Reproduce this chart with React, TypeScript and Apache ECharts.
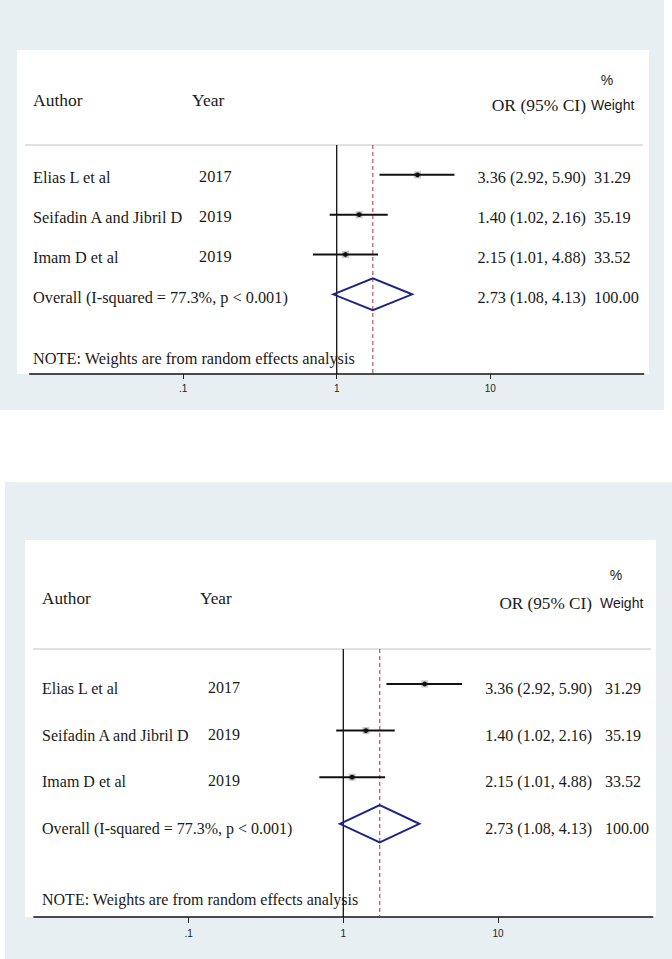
import React, { useEffect, useRef } from "react";
import * as echarts from "echarts";

// ---- data ----
const authors = ["Elias L et al", "Seifadin A and Jibril D", "Imam D et al"];
const years = ["2017", "2019", "2019"];
const pointEstimates = [3.36, 1.4, 1.14];
const ciLower = [1.9, 0.9, 0.7];
const ciUpper = [5.85, 2.15, 1.86];
const orLabels = ["3.36 (2.92, 5.90)", "1.40 (1.02, 2.16)", "2.15 (1.01, 4.88)"];
const weightLabels = ["31.29", "35.19", "33.52"];
const overallLabel = "Overall (I-squared = 77.3%, p < 0.001)";
const overallEstimate = 1.72;
const overallLower = 0.95;
const overallUpper = 3.1;
const overallOR = "2.73 (1.08, 4.13)";
const overallWeight = "100.00";
const xTicks = [0.1, 1, 10];
const noteText = "NOTE: Weights are from random effects analysis";

// ---- layout (pixels) ----
const panels = [
  {
    gridLeft: 29.7, gridWidth: 614, gridTop: 145, gridHeight: 229,
    tickLen: 5, labelMargin: 9,
    bg: { x: 0, y: 0, w: 664, h: 410 },
    box: { x: 17, y: 50, w: 632, h: 324 },
    sepX1: 25, sepX2: 643,
    authorX: 33, yearX: 199, yearHeadX: 192, orRight: 586,
    weightX: 594, weightHeadX: 591, pctX: 607,
    textDy: 3, headY: 100, pctY: 79.5, orHeadY: 104.5, noteY: 358,
    headFont: "17.5px 'Liberation Serif', 'Times New Roman', serif",
    bodyFont: "16.3px 'Liberation Serif', 'Times New Roman', serif",
  },
  {
    gridLeft: 33.9, gridWidth: 618.8, gridTop: 649, gridHeight: 268,
    tickLen: 6, labelMargin: 11,
    bg: { x: 5, y: 482, w: 667, h: 477 },
    box: { x: 25, y: 540, w: 631, h: 377 },
    sepX1: 33, sepX2: 651,
    authorX: 42, yearX: 208, yearHeadX: 200, orRight: 592,
    weightX: 605, weightHeadX: 600, pctX: 616,
    textDy: 4.5, headY: 598.5, pctY: 575, orHeadY: 603, noteY: 899,
    headFont: "17.2px 'Liberation Serif', 'Times New Roman', serif",
    bodyFont: "16px 'Liberation Serif', 'Times New Roman', serif",
  },
];

const SANS = "14px 'Liberation Sans', Arial, sans-serif";
const TXT = "#1a1a1a";
const BG = "#e8eff2";

function txt(text: string, x: number, y: number, font: string, align: string = "left") {
  return {
    type: "text",
    x,
    y,
    style: {
      text,
      fill: TXT,
      font,
      align,
      textAlign: align,
      verticalAlign: "middle",
      textVerticalAlign: "middle",
    },
  };
}

function buildOption() {
  const graphic: any[] = [];
  const grid: any[] = [];
  const xAxis: any[] = [];
  const yAxis: any[] = [];
  const series: any[] = [];

  panels.forEach((P, i) => {
    const SERIF = P.bodyFont;
    graphic.push(
      { type: "rect", z: -10, shape: { x: P.bg.x, y: P.bg.y, width: P.bg.w, height: P.bg.h }, style: { fill: BG } },
      { type: "rect", z: -9, shape: { x: P.box.x, y: P.box.y, width: P.box.w, height: P.box.h }, style: { fill: "#ffffff" } },
      { type: "line", z: -8, shape: { x1: P.sepX1, y1: P.gridTop, x2: P.sepX2, y2: P.gridTop }, style: { stroke: "#c4c4c4", lineWidth: 1 } },
      txt("Author", P.authorX, P.headY, P.headFont),
      txt("Year", P.yearHeadX, P.headY, P.headFont),
      txt("%", P.pctX, P.pctY, SANS, "center"),
      txt("OR (95% CI)", P.orRight, P.orHeadY, P.headFont, "right"),
      txt("Weight", P.weightHeadX, P.orHeadY, SANS),
      txt(noteText, P.authorX, P.noteY, SERIF)
    );

    grid.push({ left: P.gridLeft, top: P.gridTop, width: P.gridWidth, height: P.gridHeight, containLabel: false });

    xAxis.push({
      type: "log",
      logBase: 10,
      gridIndex: i,
      min: 0.01,
      max: 100,
      axisLine: { show: true, onZero: false, lineStyle: { color: "#111", width: 1.5 } },
      axisTick: { show: true, length: P.tickLen, customValues: xTicks, lineStyle: { color: "#222", width: 1 } },
      axisLabel: {
        show: true,
        customValues: xTicks,
        margin: P.labelMargin,
        fontSize: 10,
        fontFamily: "'Liberation Sans', Arial, sans-serif",
        color: "#222",
        formatter: (v: number) => (v < 1 ? String(v).replace(/^0/, "") : String(v)),
      },
      splitLine: { show: false },
      minorTick: { show: false },
      minorSplitLine: { show: false },
    });

    yAxis.push({ type: "value", gridIndex: i, min: 0.25, max: 6, inverse: true, show: false });

    // reference lines: null line at OR = 1, dashed line at overall estimate
    series.push({
      type: "custom",
      xAxisIndex: i,
      yAxisIndex: i,
      data: [[1, overallEstimate]],
      encode: { x: [0, 1] },
      z: 1,
      renderItem: (params: any, api: any) => {
        const cs = params.coordSys;
        const xNull = api.coord([api.value(0), 1])[0];
        const xEst = api.coord([api.value(1), 1])[0];
        return {
          type: "group",
          children: [
            { type: "line", shape: { x1: xNull, y1: cs.y, x2: xNull, y2: cs.y + cs.height }, style: { stroke: "#111", lineWidth: 1.3 } },
            { type: "line", shape: { x1: xEst, y1: cs.y, x2: xEst, y2: cs.y + cs.height }, style: { stroke: "#b2474d", lineWidth: 1.1, lineDash: [4, 3] } },
          ],
        };
      },
    });

    // individual studies
    series.push({
      type: "custom",
      xAxisIndex: i,
      yAxisIndex: i,
      z: 3,
      data: authors.map((_, k) => [pointEstimates[k], k + 1, ciLower[k], ciUpper[k]]),
      encode: { x: [0, 2, 3], y: 1 },
      renderItem: (params: any, api: any) => {
        const k = params.dataIndex;
        const row = api.value(1);
        const pt = api.coord([api.value(0), row]);
        const lo = api.coord([api.value(2), row]);
        const hi = api.coord([api.value(3), row]);
        const ty = pt[1] + P.textDy;
        return {
          type: "group",
          children: [
            { type: "rect", shape: { x: pt[0] - 3.5, y: pt[1] - 3.5, width: 7, height: 7 }, style: { fill: "#c6c6c6" } },
            { type: "line", shape: { x1: lo[0], y1: lo[1], x2: hi[0], y2: hi[1] }, style: { stroke: "#111", lineWidth: 2 } },
            { type: "circle", shape: { cx: pt[0], cy: pt[1], r: 2.4 }, style: { fill: "#111" } },
            txt(authors[k], P.authorX, ty, SERIF),
            txt(years[k], P.yearX, ty - 1, SERIF),
            txt(orLabels[k], P.orRight, ty, SERIF, "right"),
            txt(weightLabels[k], P.weightX, ty, SERIF),
          ],
        };
      },
    });

    // overall diamond
    series.push({
      type: "custom",
      xAxisIndex: i,
      yAxisIndex: i,
      z: 3,
      data: [[overallEstimate, authors.length + 1, overallLower, overallUpper]],
      encode: { x: [0, 2, 3], y: 1 },
      renderItem: (params: any, api: any) => {
        const row = api.value(1);
        const est = api.value(0);
        const l = api.coord([api.value(2), row]);
        const r = api.coord([api.value(3), row]);
        const t = api.coord([est, row - 0.4]);
        const b = api.coord([est, row + 0.4]);
        const ty = l[1] + P.textDy;
        return {
          type: "group",
          children: [
            { type: "polygon", shape: { points: [l, t, r, b] }, style: { fill: "none", stroke: "#1c2583", lineWidth: 2 } },
            txt(overallLabel, P.authorX, ty, SERIF),
            txt(overallOR, P.orRight, ty, SERIF, "right"),
            txt(overallWeight, P.weightX, ty, SERIF),
          ],
        };
      },
    });
  });

  return { animation: false, backgroundColor: "#ffffff", graphic, grid, xAxis, yAxis, series };
}

export default function App() {
  const ref = useRef<HTMLDivElement>(null);
  useEffect(() => {
    if (!ref.current) return;
    const chart = echarts.init(ref.current, undefined, { renderer: "svg" });
    chart.setOption(buildOption() as any);
    return () => chart.dispose();
  }, []);
  return (
    <div
      ref={ref}
      style={{ position: "absolute", left: 0, top: 0, width: 672, height: 959, background: "#fff" }}
    />
  );
}
